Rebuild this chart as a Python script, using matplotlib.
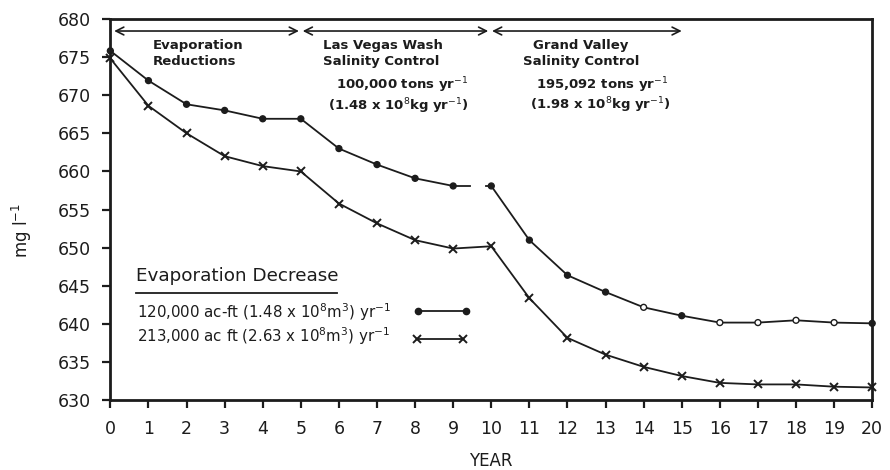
import matplotlib
matplotlib.use('Agg')
import matplotlib.pyplot as plt

plt.rcParams['font.family'] = ['DejaVu Sans']

# salinity (mg/l) per year for the two evaporation decrease cases
years = list(range(0, 21))
evap_120 = [675.8, 671.9, 668.8, 668.0, 666.9, 666.9, 663.0, 660.9, 659.1, 658.1,
            658.1, 651.0, 646.4, 644.2, 642.2, 641.1, 640.2, 640.2, 640.5, 640.2, 640.1]
evap_213 = [674.8, 668.6, 665.0, 662.0, 660.7, 660.0, 655.8, 653.2, 651.0, 649.9,
            650.2, 643.4, 638.2, 636.0, 634.4, 633.2, 632.3, 632.1, 632.1, 631.8, 631.7]
hollow_120 = [14, 16, 17, 18, 19]   # years drawn with open circles

yticks = list(range(630, 681, 5))
ink = '#1c1c1c'

fig = plt.figure(figsize=(8.9, 4.7), dpi=100)
ax = fig.add_axes([0.124, 0.148, 0.856, 0.812])

# upper curve, broken between year 9 and 10
ax.plot(years[:10], evap_120[:10], color=ink, lw=1.3)
ax.plot([9, 9.45], [evap_120[9], evap_120[9]], color=ink, lw=1.3)
ax.plot([9.85, 10], [evap_120[10], evap_120[10]], color=ink, lw=1.3)
ax.plot(years[10:], evap_120[10:], color=ink, lw=1.3)
fc = ['white' if y in hollow_120 else ink for y in years]
ax.scatter(years, evap_120, s=18, facecolors=fc, edgecolors=ink, linewidths=1,
           zorder=3, clip_on=False)

# lower curve
ax.plot(years, evap_213, color=ink, lw=1.3, marker='x', ms=6, mew=1.4, clip_on=False)

# period arrows
arrow_y = 678.4
for x0, x1 in [(0.1, 4.95), (5.05, 9.92), (10.02, 15.0)]:
    ax.annotate('', xy=(x1, arrow_y), xytext=(x0, arrow_y),
                arrowprops=dict(arrowstyle='<->', color=ink, lw=1.2,
                                shrinkA=0, shrinkB=0, mutation_scale=14))

bold = dict(fontsize=9.5, fontweight='bold', color=ink)
ax.text(1.1, 677.3, 'Evaporation\nReductions', ha='left', va='top', linespacing=1.3, **bold)
ax.text(5.59, 677.3, 'Las Vegas Wash\nSalinity Control', ha='left', va='top', linespacing=1.3, **bold)
ax.text(7.65, 671.3, '100,000 tons yr$^{-1}$', ha='center', va='center', **bold)
ax.text(7.55, 668.6, '(1.48 x 10$^{8}$kg yr$^{-1}$)', ha='center', va='center', **bold)
ax.text(12.35, 677.3, 'Grand Valley\nSalinity Control', ha='center', va='top',
        multialignment='center', linespacing=1.3, **bold)
ax.text(12.9, 671.3, '195,092 tons yr$^{-1}$', ha='center', va='center', **bold)
ax.text(12.86, 668.7, '(1.98 x 10$^{8}$kg yr$^{-1}$)', ha='center', va='center', **bold)

# legend block
ax.text(0.68, 646.3, 'Evaporation Decrease', fontsize=13.2, color=ink, ha='left', va='center')
ax.plot([0.67, 5.95], [644.1, 644.1], color=ink, lw=1.3)
ax.text(0.71, 641.6, '120,000 ac-ft (1.48 x 10$^{8}$m$^{3}$) yr$^{-1}$', fontsize=10.8,
        color=ink, ha='left', va='center')
ax.text(0.71, 638.4, '213,000 ac ft (2.63 x 10$^{8}$m$^{3}$) yr$^{-1}$', fontsize=10.8,
        color=ink, ha='left', va='center')
ax.plot([8.07, 9.33], [641.7, 641.7], color=ink, lw=1.3, marker='o', ms=4.5)
ax.plot([8.06, 9.27], [638.1, 638.1], color=ink, lw=1.3, marker='x', ms=6, mew=1.4)

ax.set_xlim(0, 20)
ax.set_ylim(630, 680)
ax.set_xticks(years)
ax.set_yticks(yticks)
ax.tick_params(direction='out', length=6, width=1.6, labelsize=12.5, colors=ink, pad=8)
for s in ax.spines.values():
    s.set_linewidth(2)
    s.set_color(ink)

ax.set_xlabel('YEAR', fontsize=12, color=ink, labelpad=10)
ax.set_ylabel('mg l$^{-1}$', fontsize=12, color=ink)
ax.yaxis.set_label_coords(-0.1, 0.444)

fig.savefig('out.png', dpi=100, facecolor='white')
